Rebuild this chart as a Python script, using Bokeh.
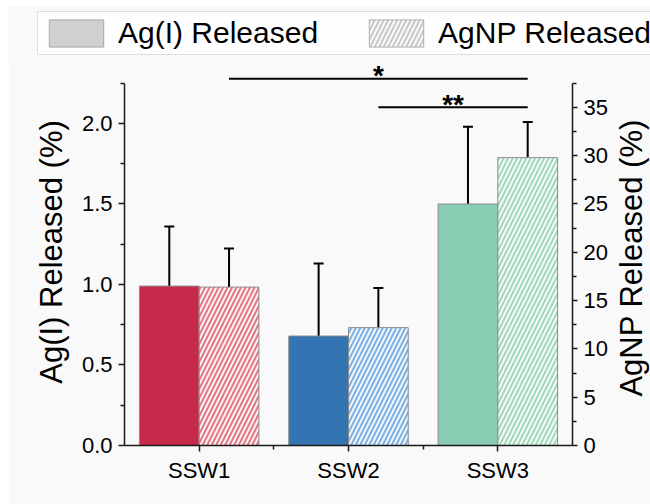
import math

from bokeh.plotting import figure
from bokeh.layouts import column, row
from bokeh.models import (Range1d, LinearAxis, FixedTicker, Whisker, TeeHead,
                          ColumnDataSource, Legend, LegendItem, PrintfTickFormatter)
from bokeh.core.properties import value
from bokeh.embed import file_html
from bokeh.resources import INLINE

# ---- data -------------------------------------------------------------
categories = ["SSW1", "SSW2", "SSW3"]
agi_released = [0.99, 0.68, 1.50]      # Ag(I) released, %, left axis
agi_error = [0.37, 0.45, 0.48]
agnp_released = [16.4, 12.2, 29.8]     # AgNP released, %, right axis
agnp_error = [4.0, 4.1, 3.7]

left_ticks = [0.0, 0.5, 1.0, 1.5, 2.0]
right_ticks = [0, 5, 10, 15, 20, 25, 30, 35]

# significance brackets: (from category, to category, label)
brackets = [("SSW1", "SSW3", "*"), ("SSW2", "SSW3", "**")]

# ---- styling ----------------------------------------------------------
FONT = "Liberation Sans"
BG = "#f9f9f9"
solid_colors = ["#c8294a", "#3574b2", "#88cdb2"]
hatched_colors = ["#e07884", "#7cb0e2", "#a2d8ba"]
BAR_W = 0.4
LEFT_MAX = 2.25
RIGHT_MAX = 37.5
Y_END = 2.4037                       # headroom above the axes for the brackets
bracket_levels = [2.278, 2.101]      # left-axis units
HATCH = dict(hatch_pattern="/", hatch_color="white", hatch_weight=2,
             hatch_scale=9, hatch_alpha=0.9)


def bare_figure(w, h):
    f = figure(width=w, height=h, output_backend="svg", toolbar_location=None,
               x_range=Range1d(0, 1), y_range=Range1d(0, 1),
               x_axis_location=None, y_axis_location=None,
               min_border=0, background_fill_color=BG, border_fill_color=BG,
               outline_line_color=None)
    f.grid.visible = False
    f.frame_align = False
    return f


# ---- legend strip -----------------------------------------------------
leg = bare_figure(642, 53)
leg.margin = (5, 0, 0, 8)
# swatch-only renderers: a single zero-height bar parked outside the view
offstage = dict(x=[-5], top=[0])
r_solid = leg.vbar(x="x", top="top", width=BAR_W, source=ColumnDataSource(offstage),
                   fill_color="#d0d0d0", line_color="#a8a8a8", line_width=1)
r_hatch = leg.vbar(x="x", top="top", width=BAR_W, source=ColumnDataSource(offstage),
                   fill_color="#c8c8c8", line_color="#b0b0b0", line_width=1,
                   **HATCH)
legend = Legend(items=[LegendItem(label="Ag(I) Released", renderers=[r_solid]),
                       LegendItem(label="AgNP Released", renderers=[r_hatch])],
                location=(29, 3), orientation="horizontal",
                glyph_width=68, glyph_height=34, label_standoff=8, spacing=44,
                padding=4, margin=0,
                label_text_font=FONT, label_text_font_size="30px",
                label_text_color="black",
                border_line_color="#bdbdbd", border_line_width=1,
                background_fill_color="#fefefe", background_fill_alpha=1)
leg.add_layout(legend)

# ---- main plot --------------------------------------------------------
p = figure(width=604, height=446, output_backend="svg", toolbar_location=None,
           x_range=Range1d(0.5, 3.5), y_range=Range1d(0, Y_END),
           min_border_left=116, min_border_right=40,
           min_border_top=0, min_border_bottom=59,
           background_fill_color=BG, border_fill_color=BG,
           outline_line_color=None)
p.margin = (0, 0, 0, 8)
p.frame_align = False
p.xgrid.visible = False
p.ygrid.visible = False
p.extra_y_ranges = {"right": Range1d(0, Y_END * RIGHT_MAX / LEFT_MAX)}
p.add_layout(LinearAxis(y_range_name="right"), "right")


def style_axis(ax, tick_out=6, minor_out=4):
    ax.axis_line_width = 1.5
    ax.axis_line_color = "#1a1a1a"
    ax.major_tick_line_color = "#1a1a1a"
    ax.minor_tick_line_color = "#1a1a1a"
    ax.major_tick_line_width = 1.5
    ax.minor_tick_line_width = 1.5
    ax.major_tick_in = 0
    ax.major_tick_out = tick_out
    ax.minor_tick_in = 0
    ax.minor_tick_out = minor_out
    ax.major_label_text_font = FONT
    ax.major_label_text_font_size = "22px"
    ax.major_label_text_color = "black"
    ax.axis_label_text_font = FONT
    ax.axis_label_text_font_size = "31px"
    ax.axis_label_text_font_style = "normal"
    ax.axis_label_text_color = "black"


xa = p.below[0]
style_axis(xa, 6, 4)
xa.ticker = FixedTicker(ticks=[1, 2, 3], minor_ticks=[1.5, 2.5])
xa.major_label_overrides = {i + 1: c for i, c in enumerate(categories)}
xa.major_label_standoff = 6

la = p.left[0]
style_axis(la, 6, 4)
la.ticker = FixedTicker(ticks=left_ticks,
                        minor_ticks=[t + 0.25 for t in left_ticks])
la.formatter = PrintfTickFormatter(format="%.1f")
la.bounds = (0, LEFT_MAX)
la.axis_label = "Ag(I) Released (%)"
la.major_label_standoff = 6
la.axis_label_standoff = 10

ra = p.right[0]
style_axis(ra, 5, 4)
ra.ticker = FixedTicker(ticks=right_ticks,
                        minor_ticks=[t + 2.5 for t in right_ticks])
ra.formatter = PrintfTickFormatter(format="%d")
ra.bounds = (0, RIGHT_MAX)
ra.major_label_standoff = 6

# ---- bars -------------------------------------------------------------
pos = {c: i + 1 for i, c in enumerate(categories)}

src_agi = ColumnDataSource(dict(
    x=[pos[c] - BAR_W / 2 for c in categories],
    top=agi_released,
    color=solid_colors,
    upper=[v + e for v, e in zip(agi_released, agi_error)],
    lower=[v - e for v, e in zip(agi_released, agi_error)],
))
src_agnp = ColumnDataSource(dict(
    x=[pos[c] + BAR_W / 2 for c in categories],
    top=agnp_released,
    color=hatched_colors,
    upper=[v + e for v, e in zip(agnp_released, agnp_error)],
    lower=[v - e for v, e in zip(agnp_released, agnp_error)],
))

p.vbar(x="x", top="top", width=BAR_W, source=src_agi,
       fill_color="color", line_color="#8c8c8c", line_width=1)
p.vbar(x="x", top="top", width=BAR_W, source=src_agnp, y_range_name="right",
       fill_color="color", line_color="#8c8c8c", line_width=1, **HATCH)

for src, rng in ((src_agi, "default"), (src_agnp, "right")):
    p.add_layout(Whisker(source=src, base="x", upper="upper", lower="lower",
                         y_range_name=rng, line_width=2, line_color="black",
                         upper_head=TeeHead(size=10, line_width=2, line_color="black"),
                         lower_head=TeeHead(size=10, line_width=2, line_color="black")))

# ---- significance brackets ------------------------------------------------
bx0 = [pos[a] + BAR_W / 2 for a, b, t in brackets]
bx1 = [pos[b] + BAR_W / 2 for a, b, t in brackets]
p.segment(x0=bx0, y0=bracket_levels, x1=bx1, y1=bracket_levels,
          line_width=2, line_color="black")
p.text(x=[(a + b) / 2 for a, b in zip(bx0, bx1)], y=bracket_levels,
       text=[t for a, b, t in brackets], text_align="center",
       text_baseline="alphabetic", y_offset=-3,
       text_font=value(FONT), text_font_size="28px", text_font_style="bold",
       text_color="black")

# ---- right-hand axis title, reading bottom-to-top -------------------------
lab = bare_figure(38, 446)
lab.text(x=[0.5], y=[0.553], text=["AgNP Released (%)"], angle=math.pi / 2,
         text_align="center", text_baseline="middle",
         text_font=value(FONT), text_font_size="31px", text_color="black")

layout = column(leg, row(p, lab, spacing=0), spacing=0)
open("out.html", "w").write(file_html(layout, INLINE))
